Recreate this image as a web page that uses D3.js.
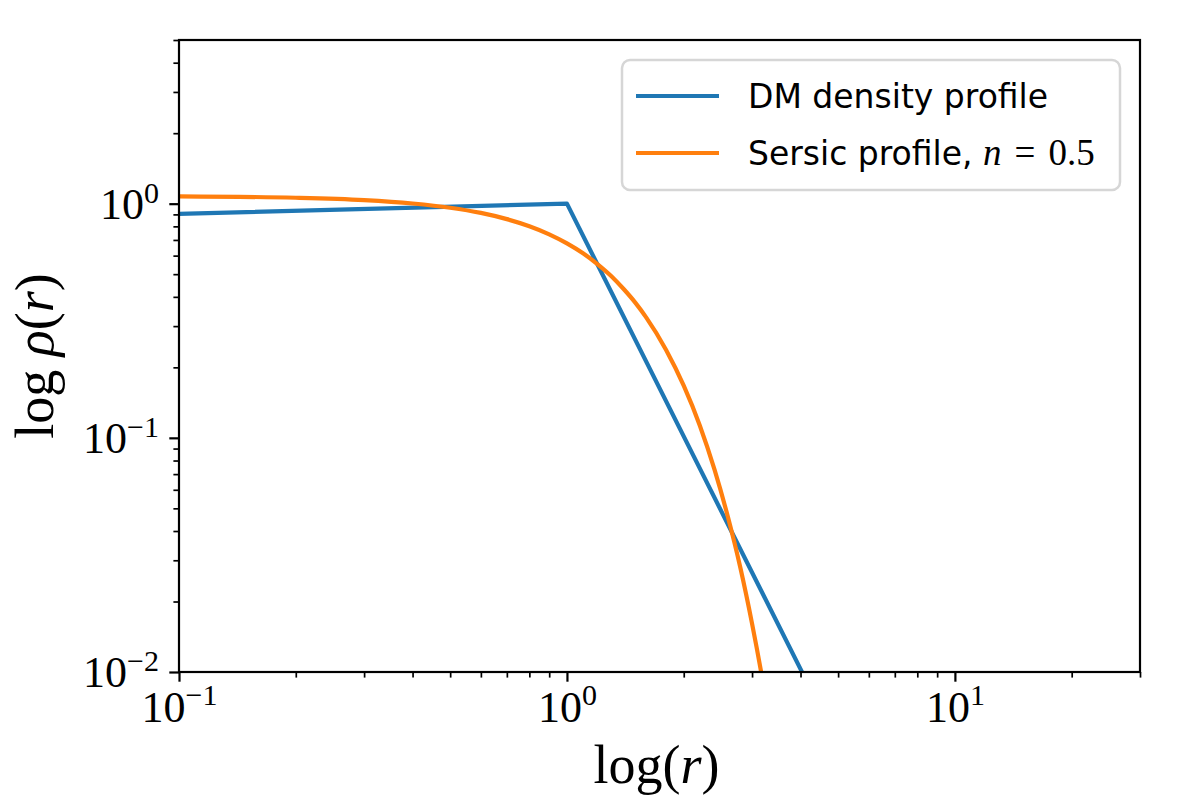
<!DOCTYPE html>
<html>
<head>
<meta charset="utf-8">
<script src="https://cdn.jsdelivr.net/npm/d3@7"></script>
<style>
	body { margin: 0; background: #fff; }
	svg { display: block; }
</style>
</head>
<body>
<div id="chart"></div>
<script>
// values
const dmRadius = [0.1, 1, 10];
const dmDensity = [0.905, 1.0, 0.0005];
const sersicRadius = [0.1, 0.2, 0.3, 0.4, 0.5, 0.6, 0.7, 0.8, 0.9, 1.0, 1.1, 1.2, 1.3, 1.4, 1.5, 1.6, 1.8, 2.0, 2.2, 2.4, 2.6, 2.8, 3.0, 3.2, 3.4];
const sersicDensity = [1.075, 1.06, 1.036, 1.002, 0.961, 0.913, 0.859, 0.801, 0.74, 0.677, 0.614, 0.551, 0.491, 0.432, 0.378, 0.327, 0.238, 0.167, 0.113, 0.0733, 0.0459, 0.0278, 0.0161, 0.00905, 0.0049];
const xMajorTicks = [0.1, 1, 10];
const xTickExponents = ["\u22121", "0", "1"];
const yMajorTicks = [0.01, 0.1, 1];
const yTickExponents = ["\u22122", "\u22121", "0"];
const legendLabels = ["DM density profile", "Sersic profile, "];
const seriesColors = ["#1f77b4", "#ff7f0e"];

const width = 1200;
const height = 800;
const plotLeft = 179;
const plotRight = 1140;
const plotTop = 40;
const plotBottom = 672;
const tickFont = "'Liberation Serif', 'DejaVu Serif', serif";

let svg = d3
	.select("#chart")
	.append("svg")
	.attr("width", width)
	.attr("height", height);

const x = d3.scaleLog().domain([0.1, 30]).range([plotLeft, plotRight]);
const y = d3.scaleLog().domain([0.01, 5]).range([plotBottom, plotTop]);

// minor ticks 2..9 of every decade that falls in the domain
function minorTicks(scale) {
	const [lo, hi] = scale.domain();
	const out = [];
	for (let e = Math.floor(Math.log10(lo)); e <= Math.ceil(Math.log10(hi)); e++) {
		for (let m = 2; m <= 9; m++) {
			const v = m * Math.pow(10, e);
			if (v >= lo * 0.999 && v <= hi * 1.001) out.push(v);
		}
	}
	return out;
}

svg.append("clipPath")
	.attr("id", "plotClip")
	.append("rect")
	.attr("x", plotLeft)
	.attr("y", plotTop)
	.attr("width", plotRight - plotLeft)
	.attr("height", plotBottom - plotTop);

const line = d3
	.line()
	.x((d) => x(d[0]))
	.y((d) => y(d[1]));

const plotArea = svg.append("g").attr("clip-path", "url(#plotClip)");

plotArea
	.append("path")
	.datum(dmRadius.map((r, i) => [r, dmDensity[i]]))
	.attr("fill", "none")
	.attr("stroke", seriesColors[0])
	.attr("stroke-width", 4.2)
	.attr("stroke-linejoin", "round")
	.attr("d", line);

plotArea
	.append("path")
	.datum(sersicRadius.map((r, i) => [r, sersicDensity[i]]))
	.attr("fill", "none")
	.attr("stroke", seriesColors[1])
	.attr("stroke-width", 4.2)
	.attr("d", line.curve(d3.curveMonotoneX));

// axes: minor ticks first, then major with labels
const xMinor = svg
	.append("g")
	.attr("transform", `translate(0, ${plotBottom})`)
	.call(d3.axisBottom(x).tickValues(minorTicks(x)).tickSize(5.6).tickSizeOuter(0).tickFormat(""));
const yMinor = svg
	.append("g")
	.attr("transform", `translate(${plotLeft}, 0)`)
	.call(d3.axisLeft(y).tickValues(minorTicks(y)).tickSize(5.6).tickSizeOuter(0).tickFormat(""));
[xMinor, yMinor].forEach((g) => {
	g.select(".domain").remove();
	g.selectAll(".tick line").attr("stroke", "#000").attr("stroke-width", 1.7);
});

const xMajor = svg
	.append("g")
	.attr("transform", `translate(0, ${plotBottom})`)
	.call(d3.axisBottom(x).tickValues(xMajorTicks).tickSize(9.7).tickSizeOuter(0).tickFormat(""));
const yMajor = svg
	.append("g")
	.attr("transform", `translate(${plotLeft}, 0)`)
	.call(d3.axisLeft(y).tickValues(yMajorTicks).tickSize(9.7).tickSizeOuter(0).tickFormat(""));
[xMajor, yMajor].forEach((g) => {
	g.select(".domain").remove();
	g.selectAll(".tick line").attr("stroke", "#000").attr("stroke-width", 2.2);
});

xMajor.selectAll(".tick text")
	.attr("y", 50)
	.attr("dy", null)
	.attr("text-anchor", "middle")
	.style("font-family", tickFont)
	.style("font-size", "44px")
	.attr("fill", "#000")
	.each(function (d, i) {
		const t = d3.select(this);
		t.append("tspan").text("10");
		t.append("tspan").attr("dy", -17).style("font-size", "30px").text(xTickExponents[i]);
	});

yMajor.selectAll(".tick text")
	.attr("x", -20)
	.attr("dy", "0.33em")
	.attr("text-anchor", "end")
	.style("font-family", tickFont)
	.style("font-size", "44px")
	.attr("fill", "#000")
	.each(function (d, i) {
		const t = d3.select(this);
		t.append("tspan").text("10");
		t.append("tspan").attr("dy", -16).style("font-size", "30px").text(yTickExponents[i]);
	});

// spines
svg.append("rect")
	.attr("x", plotLeft)
	.attr("y", plotTop)
	.attr("width", plotRight - plotLeft)
	.attr("height", plotBottom - plotTop)
	.attr("fill", "none")
	.attr("stroke", "#000")
	.attr("stroke-width", 2.2);

// axis labels
const xLabel = svg
	.append("text")
	.attr("x", (plotLeft + plotRight) / 2 - 3)
	.attr("y", 783)
	.attr("text-anchor", "middle")
	.style("font-family", tickFont)
	.style("font-size", "54px");
xLabel.append("tspan").text("log(");
xLabel.append("tspan").style("font-style", "italic").text("r");
xLabel.append("tspan").text(")");

const yLabel = svg
	.append("text")
	.attr("transform", `translate(53, ${(plotTop + plotBottom) / 2}) rotate(-90)`)
	.attr("text-anchor", "middle")
	.style("font-family", tickFont)
	.style("font-size", "54px");
yLabel.append("tspan").text("log ");
yLabel.append("tspan").style("font-style", "italic").text("\u03c1");
yLabel.append("tspan").text("(");
yLabel.append("tspan").style("font-style", "italic").text("r");
yLabel.append("tspan").text(")");

// legend
const legend = svg.append("g");
legend
	.append("rect")
	.attr("x", 622)
	.attr("y", 60)
	.attr("width", 498)
	.attr("height", 130)
	.attr("rx", 8)
	.attr("fill", "#fff")
	.attr("fill-opacity", 0.8)
	.attr("stroke", "#d6d6d6")
	.attr("stroke-width", 2.5);

const legendRows = legend
	.selectAll(".legendRow")
	.data(legendLabels)
	.enter()
	.append("g")
	.attr("class", "legendRow")
	.attr("transform", (d, i) => `translate(0, ${96 + i * 57})`);
legendRows
	.append("line")
	.attr("x1", 636)
	.attr("x2", 719)
	.attr("stroke", (d, i) => seriesColors[i])
	.attr("stroke-width", 4.2);
legendRows
	.append("text")
	.attr("x", 748)
	.attr("dy", "0.36em")
	.style("font-family", "'DejaVu Sans', sans-serif")
	.style("font-size", "33px")
	.each(function (d, i) {
		const t = d3.select(this);
		t.append("tspan").text(d);
		if (i === 1) {
			t.append("tspan").style("font-family", tickFont).style("font-style", "italic").style("font-size", "37px").text("n");
			t.append("tspan").attr("dx", 13).style("font-family", tickFont).style("font-size", "37px").text("=");
			t.append("tspan").attr("dx", 13).style("font-family", tickFont).style("font-size", "37px").text("0.5");
		}
	});
</script>
</body>
</html>
